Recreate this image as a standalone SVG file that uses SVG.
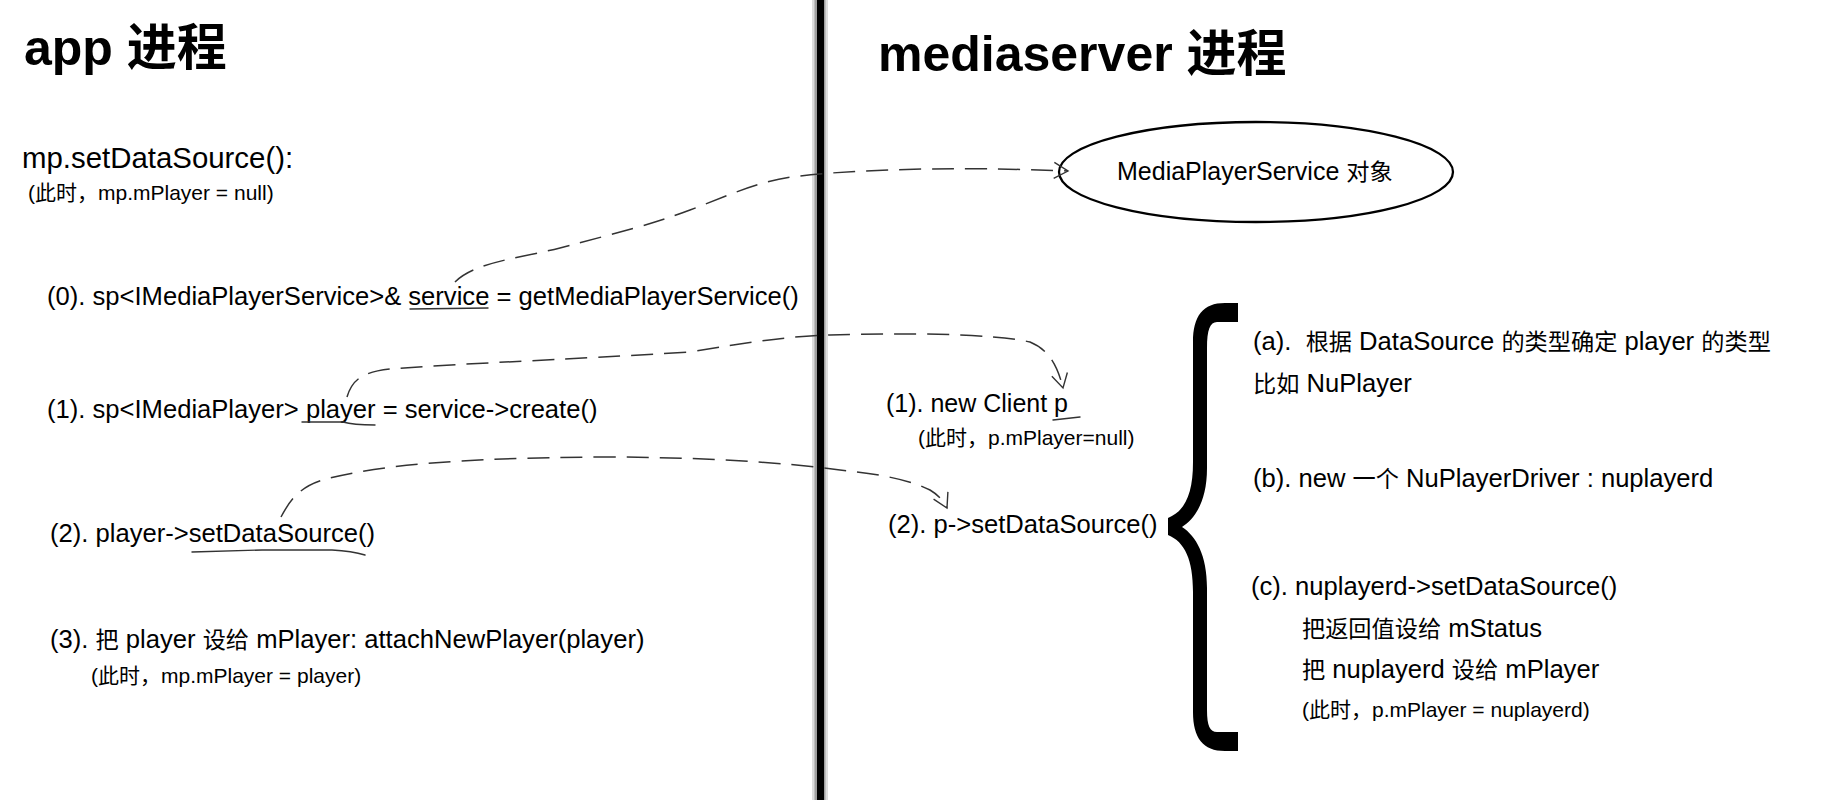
<svg xmlns="http://www.w3.org/2000/svg" width="1836" height="800" viewBox="0 0 1836 800">
<style>
text{font-family:"Liberation Sans","Noto Sans CJK SC",sans-serif;fill:#000}
.h{font-size:50px;font-weight:bold}
.m{font-size:25.6px}
.m .c{font-size:23.2px}
.s{font-size:21px}
.t{font-size:29.4px}
.ul{fill:none;stroke:#333;stroke-width:1.4;stroke-linecap:round}
.dash{fill:none;stroke:#333;stroke-width:1.5;stroke-dasharray:22 11;marker-end:url(#ah)}
</style>
<defs>
<marker id="ah" markerUnits="userSpaceOnUse" markerWidth="24" markerHeight="24" refX="20" refY="12" orient="auto">
<path d="M6,4 L20,12 L6,20" fill="none" stroke="#333" stroke-width="1.4"/>
</marker>
</defs>
<rect width="1836" height="800" fill="#fff"/>
<g id="divider">
<rect x="812" y="0" width="16" height="800" fill="#bbb" opacity="0.5"/>
<rect x="814.5" y="0" width="11" height="800" fill="#777" opacity="0.6"/>
<rect x="817" y="0" width="7" height="800" fill="#000"/>
</g>
<g id="app-side">
<text class="h" x="24" y="65">app 进程</text>
<text class="t" x="22" y="168">mp.setDataSource():</text>
<text class="s" x="28" y="200">(此时，mp.mPlayer = null)</text>
<g id="step0"><text class="m" x="47" y="305">(0). sp&lt;IMediaPlayerService&gt;&amp; service = getMediaPlayerService()</text><path class="ul" d="M410,309 L488,308"/></g>
<g id="step1"><text class="m" x="47" y="418">(1). sp&lt;IMediaPlayer&gt; player = service-&gt;create()</text><path class="ul" d="M302,422 L343,422 Q353,425 375,425"/></g>
<g id="step2"><text class="m" x="50" y="542">(2). player-&gt;setDataSource()</text><path class="ul" d="M192,552 L262,550 L332,550 Q352,551 365,555"/></g>
<g id="step3"><text class="m" x="50" y="648">(3). <tspan class="c">把</tspan> player <tspan class="c">设给</tspan> mPlayer: attachNewPlayer(player)</text>
<text class="s" x="91" y="683">(此时，mp.mPlayer = player)</text></g>
</g>
<g id="mediaserver-side">
<text class="h" x="878" y="71">mediaserver 进程</text>
<g id="service-obj"><ellipse cx="1256" cy="172" rx="197" ry="50" fill="none" stroke="#000" stroke-width="2.3"/>
<text class="m" x="1117" y="180" style="font-size:25px">MediaPlayerService <tspan class="c">对象</tspan></text></g>
<g id="client"><text class="m" x="886" y="412" style="font-size:25px">(1). new Client p</text><path class="ul" d="M1053,420 L1080,417"/>
<text class="s" x="918" y="445">(此时，p.mPlayer=null)</text></g>
<g id="client-set"><text class="m" x="888" y="533">(2). p-&gt;setDataSource()</text></g>
<g id="brace"><path fill="#000" d="M1225,303 L1238,303 L1238,322 L1217,322 C1210,322 1207,330 1207,348 L1207,468 C1207,500 1196,518 1182,527 C1196,536 1207,555 1207,588 L1207,710 C1207,726 1210,732 1217,732 L1238,732 L1238,751 L1225,751 C1203,751 1193,738 1193,712 L1193,592 C1193,560 1185,542 1168,535 L1168,518 C1185,511 1193,494 1193,462 L1193,342 C1193,316 1203,303 1225,303 Z"/></g>
<g id="details">
<text class="m" x="1253" y="350" xml:space="preserve">(a).  <tspan class="c">根据</tspan> DataSource <tspan class="c">的类型确定</tspan> player <tspan class="c">的类型</tspan></text>
<text class="m" x="1253" y="392"><tspan class="c">比如</tspan> NuPlayer</text>
<text class="m" x="1253" y="487">(b). new <tspan class="c">一个</tspan> NuPlayerDriver : nuplayerd</text>
<text class="m" x="1251" y="595">(c). nuplayerd-&gt;setDataSource()</text>
<text class="m" x="1302" y="637"><tspan class="c">把返回值设给</tspan> mStatus</text>
<text class="m" x="1302" y="678"><tspan class="c">把</tspan> nuplayerd <tspan class="c">设给</tspan> mPlayer</text>
<text class="s" x="1302" y="717">(此时，p.mPlayer = nuplayerd)</text>
</g>
</g>
<g id="connectors">
<path class="dash" d="M455,282 C475,262 520,258 560,248 C620,232 650,225 690,210 C730,195 760,180 800,176 C850,170 950,166 1068,171"/>
<path class="dash" d="M347,397 C352,380 362,372 390,369 C450,364 560,360 690,352 C750,342 790,336 830,335 C900,333 990,333 1030,342 C1050,350 1058,368 1063,388"/>
<path class="dash" d="M281,517 C290,500 300,485 330,478 C380,466 450,458 600,457 C700,457 780,462 840,470 C880,474 910,480 930,490 C940,496 944,502 947,508"/>
</g>
</svg>
